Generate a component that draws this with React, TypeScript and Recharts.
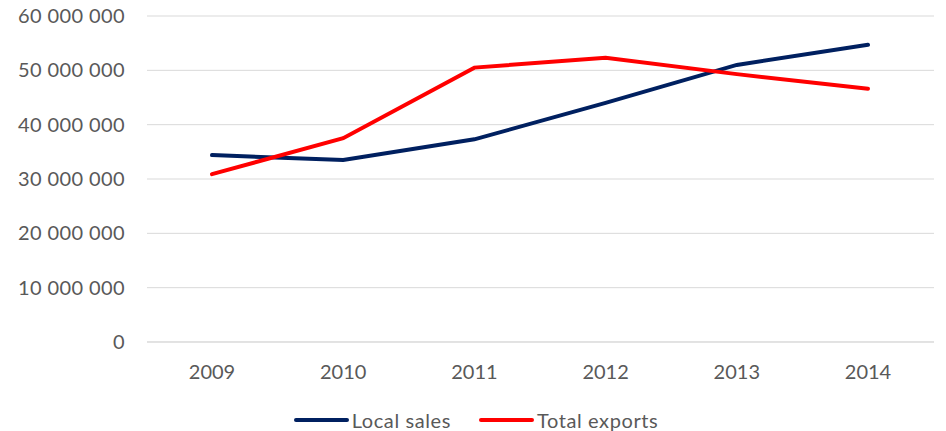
import { LineChart, Line, XAxis, YAxis, CartesianGrid, Legend } from 'recharts';

const years = ['2009', '2010', '2011', '2012', '2013', '2014'];
const localSales = [34400000, 33500000, 37300000, 44000000, 51000000, 54700000];
const totalExports = [30900000, 37500000, 50500000, 52300000, 49300000, 46600000];
const yTicks = [0, 10000000, 20000000, 30000000, 40000000, 50000000, 60000000];

const data = years.map((year, i) => ({
  year,
  local: localSales[i],
  exports: totalExports[i],
}));

const fmt = (v: number) => String(v).replace(/\B(?=(\d{3})+(?!\d))/g, ' ');

const FONT = 'Lato, "Open Sans", sans-serif';
const GREY = '#595959';

function LegendContent() {
  const items = [
    { label: 'Local sales', color: '#002060' },
    { label: 'Total exports', color: '#FF0000' },
  ];
  return (
    <div
      style={{
        display: 'flex',
        justifyContent: 'center',
        gap: 28,
        fontFamily: FONT,
        fontSize: 20,
        lineHeight: '22px',
        height: 22,
        paddingTop: 2,
        color: GREY,
        marginLeft: 18,
      }}
    >
      {items.map((it) => (
        <div key={it.label} style={{ display: 'flex', alignItems: 'center' }}>
          <span style={{ display: 'inline-block', width: 55, height: 4, borderRadius: 2, background: it.color, marginRight: 3 }} />
          <span style={{ letterSpacing: 0.6 }}>{it.label}</span>
        </div>
      ))}
    </div>
  );
}

export default function App() {
  return (
    <div style={{ position: 'absolute', top: 0, left: 0, background: '#fff' }}>
      <LineChart width={946} height={431} data={data} margin={{ top: 16, right: 12, left: 0, bottom: 0 }}>
        <CartesianGrid vertical={false} stroke="#d9d9d9" strokeWidth={1} />
        <XAxis
          dataKey="year"
          axisLine={{ stroke: '#d9d9d9' }}
          tickLine={false}
          tickMargin={17}
          height={65}
          padding={{ left: 65, right: 66 }}
          tick={{ fill: GREY, fontSize: 20, fontFamily: FONT }}
        />
        <YAxis
          width={147}
          domain={[0, 60000000]}
          ticks={yTicks}
          tickFormatter={fmt}
          axisLine={false}
          tickLine={false}
          tickSize={0}
          tickMargin={22}
          tick={{ fill: GREY, fontSize: 20, fontFamily: FONT, letterSpacing: 0.4 }}
        />
        <Legend verticalAlign="bottom" height={24} wrapperStyle={{ height: 24 }} content={<LegendContent />} />
        <Line
          dataKey="local"
          name="Local sales"
          stroke="#002060"
          strokeWidth={4}
          strokeLinecap="round"
          dot={false}
          activeDot={false}
          type="linear"
          isAnimationActive={false}
        />
        <Line
          dataKey="exports"
          name="Total exports"
          stroke="#FF0000"
          strokeWidth={4}
          strokeLinecap="round"
          dot={false}
          activeDot={false}
          type="linear"
          isAnimationActive={false}
        />
      </LineChart>
    </div>
  );
}
